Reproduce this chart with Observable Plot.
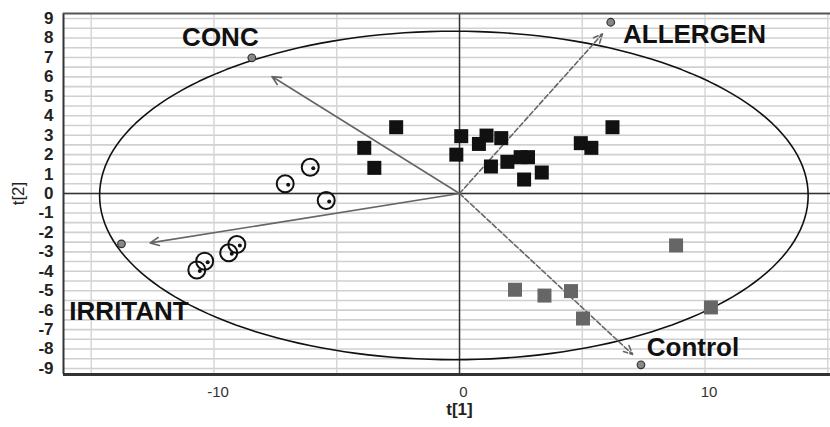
<!DOCTYPE html>
<html><head><meta charset="utf-8">
<script src="https://cdn.jsdelivr.net/npm/d3@7"></script>
<script src="https://cdn.jsdelivr.net/npm/@observablehq/plot@0.6"></script>
<style>body{margin:0;background:#fff} svg{display:block}</style>
</head><body><div id="chart"></div>
<script>
// Scores
const allergenT1 = [0.07, 1.1, 0.79, 1.7, -0.13, 1.28, 1.95, 2.49, 2.79, 2.63, 3.35, 4.94, 5.37, 6.23, -2.58, -3.88, -3.47];
const allergenT2 = [2.95, 2.98, 2.55, 2.85, 2.0, 1.39, 1.63, 1.87, 1.87, 0.72, 1.08, 2.59, 2.35, 3.41, 3.41, 2.35, 1.32];
const controlT1 = [8.82, 2.26, 3.46, 4.54, 5.03, 10.24];
const controlT2 = [-2.67, -4.95, -5.25, -5.02, -6.43, -5.86];
const irritantT1 = [-6.08, -7.1, -5.43, -9.07, -9.4, -10.38, -10.7];
const irritantT2 = [1.35, 0.5, -0.36, -2.62, -3.05, -3.48, -3.93];
// Loading vectors
const loadNames = ["CONC", "ALLERGEN", "IRRITANT", "Control"];
const tipT1 = [-7.64, 5.82, -12.6, 7.05];
const tipT2 = [6.02, 8.21, -2.54, -8.28];
const endT1 = [-8.46, 6.16, -13.77, 7.39];
const endT2 = [6.98, 8.81, -2.59, -8.81];
const labelT1 = [-9.74, 9.57, -13.46, 9.51];
const labelT2 = [8.0, 8.19, -6.1, -7.91];
// Hotelling ellipse
const ellipseCx = -0.23, ellipseCy = -0.1, ellipseRx = 14.43, ellipseRy = 8.45;
// Ticks
const xTicks = [-10, 0, 10];
const yTicks = d3.range(-9, 10, 1);
const xGrid = [-15, -10, -5, 5, 10, 15];
const yGrid = d3.range(-9, 9.01, 0.5);

const allergen = allergenT1.map((x, i) => ({x, y: allergenT2[i]}));
const control = controlT1.map((x, i) => ({x, y: controlT2[i]}));
const irritant = irritantT1.map((x, i) => ({x, y: irritantT2[i]}));
const loads = loadNames.map((name, i) => ({name, tx: tipT1[i], ty: tipT2[i], ex: endT1[i], ey: endT2[i], lx: labelT1[i], ly: labelT2[i]}));
const ellipse = d3.range(0, 361, 2).map(a => ({
  x: ellipseCx + ellipseRx * Math.cos(a * Math.PI / 180),
  y: ellipseCy + ellipseRy * Math.sin(a * Math.PI / 180)
}));
const dashed = new Set(["ALLERGEN", "Control"]);

const xDom = [-16.13, 15.11], yDom = [-9.31, 9.26];
const font = "'Liberation Sans', Arial, sans-serif";

const chart = Plot.plot({
  width: 830, height: 427,
  marginLeft: 63, marginRight: 0, marginTop: 13, marginBottom: 53,
  style: {fontFamily: font, background: "#fff"},
  x: {domain: xDom},
  y: {domain: yDom},
  marks: [
    Plot.ruleY(yGrid, {stroke: "#d0d0d0", strokeWidth: 1.6}),
    Plot.ruleX(xGrid, {stroke: "#d4d4d4", strokeWidth: 1.4}),
    Plot.ruleY([0], {stroke: "#333", strokeWidth: 1.5}),
    Plot.ruleX([0], {stroke: "#333", strokeWidth: 1.5}),
    Plot.ruleX([xDom[0]], {stroke: "#333", strokeWidth: 2}),
    Plot.ruleY([yDom[1]], {stroke: "#555", strokeWidth: 2}),
    Plot.ruleY([yDom[0]], {stroke: "#333", strokeWidth: 3}),
    Plot.line(ellipse, {x: "x", y: "y", stroke: "#111", strokeWidth: 1.6}),
    Plot.arrow(loads.filter(d => !dashed.has(d.name)), {x1: 0, y1: 0, x2: "tx", y2: "ty", stroke: "#666", strokeWidth: 1.6, headLength: 9, headAngle: 50}),
    Plot.arrow(loads.filter(d => dashed.has(d.name)), {x1: 0, y1: 0, x2: "tx", y2: "ty", stroke: "#666", strokeWidth: 1.6, strokeDasharray: "5,2.5", headLength: 9, headAngle: 50}),
    Plot.dot(loads, {x: "ex", y: "ey", r: 3.8, fill: "#888", stroke: "#333", strokeWidth: 1.2}),
    Plot.dot(allergen, {x: "x", y: "y", symbol: "square", r: 7.9, fill: "#111"}),
    Plot.dot(control, {x: "x", y: "y", symbol: "square", r: 7.9, fill: "#666"}),
    Plot.dot(irritant, {x: "x", y: "y", r: 8.5, stroke: "#111", strokeWidth: 2, fill: "none"}),
    Plot.dot(irritant, {x: "x", y: "y", r: 2, fill: "#111", dx: 3, dy: 1}),
    Plot.text(loads, {x: "lx", y: "ly", text: "name", fontSize: 26, fontWeight: "bold", fill: "#111", textAnchor: "middle"}),
    Plot.axisX(xTicks, {tickSize: 0, tickPadding: 12, fontSize: 15, fill: "#333", dx: 4, tickFormat: d => String(d), label: null}),
    Plot.axisY(yTicks, {tickSize: 0, tickPadding: 10, fontSize: 17, fontWeight: "bold", fill: "#222", tickFormat: d => String(d), label: null}),
    Plot.text(["t[1]"], {x: 0, frameAnchor: "bottom", dy: 40, fontSize: 17, fill: "#222", fontWeight: "bold", textAnchor: "middle"}),
    Plot.text(["t[2]"], {y: 0, frameAnchor: "left", dx: -45, rotate: -90, fontSize: 17, fill: "#222", textAnchor: "middle"})
  ]
});
document.getElementById("chart").appendChild(chart);
</script>
</body></html>
